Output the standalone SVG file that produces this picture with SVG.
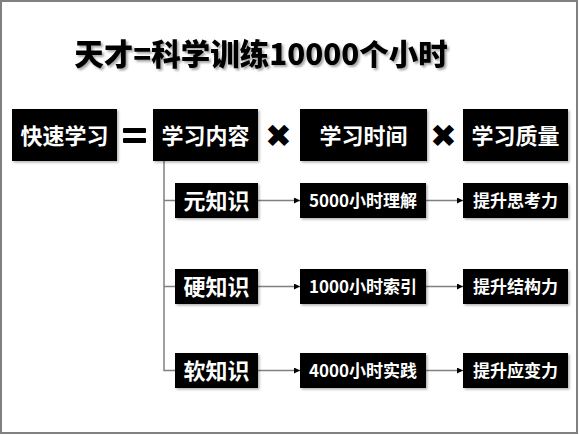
<svg xmlns="http://www.w3.org/2000/svg" width="579" height="435" viewBox="0 0 579 435">
<style>
.bx{fill:#000;filter:url(#sh)}
.t{font-family:"Noto Sans CJK SC","Liberation Sans",sans-serif;font-weight:bold;fill:#fff;text-anchor:middle}
.big{font-size:22px}
.sm{font-size:17px}
.ln{stroke:#808080;stroke-width:1.5;fill:none}
.ar{stroke:#808080;stroke-width:1.5;fill:none;marker-end:url(#ah)}
.x{font-family:"DejaVu Sans",sans-serif;font-size:32px;text-anchor:middle;fill:#000}
</style>
<defs>
<filter id="sh" x="-10%" y="-10%" width="130%" height="140%">
<feDropShadow dx="1.5" dy="1.5" stdDeviation="1.2" flood-color="#000" flood-opacity="0.3"/>
</filter>
<filter id="tsh" x="-5%" y="-10%" width="115%" height="140%">
<feDropShadow dx="2" dy="2" stdDeviation="1.2" flood-color="#000" flood-opacity="0.35"/>
</filter>
<marker id="ah" viewBox="0 0 6 6" refX="6" refY="3" markerWidth="6" markerHeight="6" markerUnits="userSpaceOnUse" orient="auto">
<path d="M0,0 L6,3 L0,6 Z" fill="#000"/>
</marker>
</defs>
<rect x="0" y="0" width="579" height="435" fill="#fff"/>
<rect x="1" y="1" width="576" height="432" fill="none" stroke="#808080" stroke-width="2"/>
<text x="261" y="65" font-family="'Noto Sans CJK SC','Liberation Sans',sans-serif" font-weight="900" font-size="29.5" text-anchor="middle" fill="#000" filter="url(#tsh)">天才=科学训练10000个小时</text>

<g id="connectors">
<path class="ln" d="M164,161 V370.5 H175"/>
<path class="ln" d="M164,200.5 H175"/>
<path class="ln" d="M164,286.5 H175"/>
<path class="ar" d="M258,200.5 H300"/>
<path class="ar" d="M426,200.5 H463"/>
<path class="ar" d="M258,286.5 H300"/>
<path class="ar" d="M426,286.5 H463"/>
<path class="ar" d="M258,370.5 H300"/>
<path class="ar" d="M426,370.5 H463"/>
</g>

<g id="ops">
<rect x="123" y="128" width="23" height="5" rx="1" fill="#000"/>
<rect x="123" y="138" width="23" height="5" rx="1" fill="#000"/>
<text class="x" x="278.5" y="147">✖</text>
<text class="x" x="443.5" y="147">✖</text>
</g>

<g id="n-kuaisu"><rect class="bx" x="12" y="109" width="105" height="52"/><text class="t big" x="64.5" y="144">快速学习</text></g>
<g id="n-neirong"><rect class="bx" x="153" y="109" width="105" height="52"/><text class="t big" x="205.5" y="144">学习内容</text></g>
<g id="n-shijian"><rect class="bx" x="300" y="109" width="127" height="52"/><text class="t big" x="363.5" y="144">学习时间</text></g>
<g id="n-zhiliang"><rect class="bx" x="463" y="109" width="105" height="52"/><text class="t big" x="515.5" y="144">学习质量</text></g>

<g id="n-yuan"><rect class="bx" x="175" y="183" width="83" height="35"/><text class="t big" x="216.5" y="208.5">元知识</text></g>
<g id="n-5000"><rect class="bx" x="300" y="183" width="126" height="35"/><text class="t sm" x="363" y="206.5">5000小时理解</text></g>
<g id="n-sikao"><rect class="bx" x="463" y="183" width="105" height="35"/><text class="t sm" x="515.5" y="206.5">提升思考力</text></g>

<g id="n-ying"><rect class="bx" x="175" y="269" width="83" height="35"/><text class="t big" x="216.5" y="294.5">硬知识</text></g>
<g id="n-1000"><rect class="bx" x="300" y="269" width="126" height="35"/><text class="t sm" x="363" y="292.5">1000小时索引</text></g>
<g id="n-jiegou"><rect class="bx" x="463" y="269" width="105" height="35"/><text class="t sm" x="515.5" y="292.5">提升结构力</text></g>

<g id="n-ruan"><rect class="bx" x="175" y="353" width="83" height="35"/><text class="t big" x="216.5" y="378.5">软知识</text></g>
<g id="n-4000"><rect class="bx" x="300" y="353" width="126" height="35"/><text class="t sm" x="363" y="376.5">4000小时实践</text></g>
<g id="n-yingbian"><rect class="bx" x="463" y="353" width="105" height="35"/><text class="t sm" x="515.5" y="376.5">提升应变力</text></g>
</svg>
